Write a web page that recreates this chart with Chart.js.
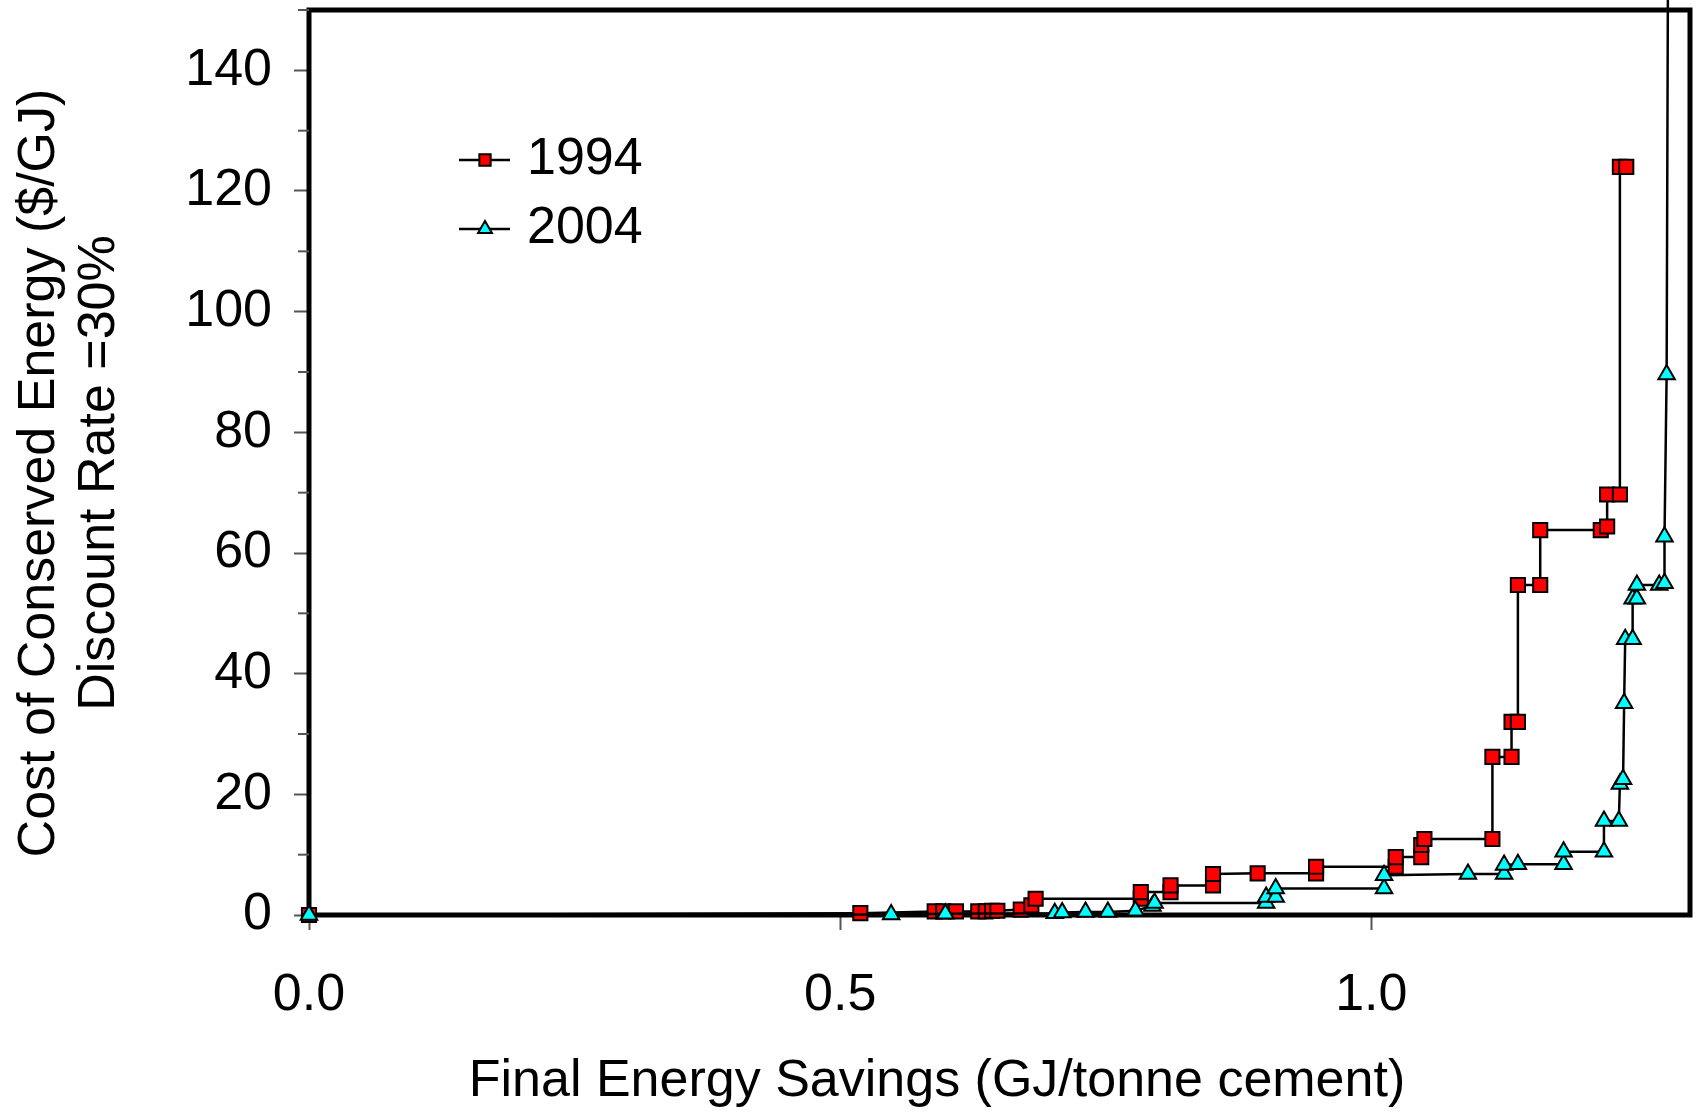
<!DOCTYPE html>
<html>
<head>
<meta charset="utf-8">
<script src="https://cdn.jsdelivr.net/npm/chart.js@4.4.1/dist/chart.umd.min.js"></script>
<style>
html, body { margin: 0; padding: 0; background: #fff; }
</style>
</head>
<body>
<canvas id="chart" width="1696" height="1113"></canvas>
<script>
// cumulative savings (GJ/t) and cost of conserved energy ($/GJ)
let savings1994 = [0, 0.519, 0.589, 0.597, 0.609, 0.630, 0.637, 0.643, 0.648, 0.670, 0.680, 0.684, 0.783, 0.783, 0.811, 0.811, 0.851, 0.851, 0.893, 0.948, 0.948, 1.023, 1.023, 1.047, 1.047, 1.050, 1.114, 1.114, 1.132, 1.132, 1.138, 1.138, 1.159, 1.159, 1.216, 1.222, 1.222, 1.234, 1.234, 1.240]
let cost1994 = [0, 0.3, 0.6, 0.6, 0.6, 0.6, 0.6, 0.7, 0.7, 0.9, 1.6, 2.7, 2.7, 3.8, 3.8, 4.9, 4.9, 6.8, 6.9, 6.9, 8.0, 8.0, 9.6, 9.6, 11.6, 12.6, 12.6, 26.2, 26.2, 32.0, 32.0, 54.7, 54.7, 63.8, 63.8, 64.4, 69.7, 69.7, 124, 124]

let savings2004 = [0, 0.548, 0.599, 0.702, 0.709, 0.731, 0.752, 0.778, 0.794, 0.796, 0.901, 0.901, 0.910, 0.910, 1.012, 1.012, 1.091, 1.125, 1.125, 1.138, 1.181, 1.181, 1.219, 1.219, 1.233, 1.234, 1.237, 1.238, 1.239, 1.246, 1.246, 1.250, 1.250, 1.271, 1.276, 1.276, 1.278, 1.281]
let cost2004 = [0, 0.1, 0.2, 0.3, 0.4, 0.5, 0.5, 0.7, 1.5, 2.0, 2.0, 3.0, 3.0, 4.4, 4.4, 6.6, 6.8, 6.8, 8.3, 8.4, 8.4, 10.5, 10.5, 15.6, 15.6, 21.7, 22.5, 35.1, 45.7, 45.7, 52.4, 52.4, 54.7, 54.7, 55.0, 62.7, 89.6, 250]

let xTickValues = [0, 0.5, 1.0]
let yTickValues = [0, 10, 20, 30, 40, 50, 60, 70, 80, 90, 100, 110, 120, 130, 140, 150]

let seriesNames = ['1994', '2004']
let xTitle = 'Final Energy Savings (GJ/tonne cement)'
let yTitle = ['Cost of Conserved Energy ($/GJ)', 'Discount Rate =30%']

const font = "'Liberation Sans', Arial, sans-serif"
const tickGrey = '#555'

function toPoints(xs, ys) {
    let pts = []
    for (let i = 0; i < xs.length; i++)
        pts.push({x: xs[i], y: ys[i]})
    return pts
}

const framePlugin = {
    id: 'frame',
    beforeDatasetsDraw(chart) {
        const {ctx, chartArea: a} = chart
        ctx.save()
        ctx.strokeStyle = '#000'
        ctx.lineWidth = 5
        ctx.strokeRect(a.left, a.top, a.right - a.left, a.bottom - a.top)
        // short minor ticks on the y axis
        const y = chart.scales.y
        ctx.strokeStyle = tickGrey
        ctx.lineWidth = 2
        for (const v of yTickValues) {
            if (v % 20 === 0) continue
            const py = y.getPixelForValue(v)
            ctx.beginPath()
            ctx.moveTo(a.left - 11, py)
            ctx.lineTo(a.left, py)
            ctx.stroke()
        }
        // axis titles, placed as in the original (a bit off the plot centre)
        ctx.fillStyle = '#000'
        ctx.font = '52px ' + font
        ctx.textAlign = 'center'
        ctx.textBaseline = 'middle'
        ctx.fillText(xTitle, a.left + 628, chart.height - 31)
        ctx.save()
        ctx.translate(40, 473)
        ctx.rotate(-Math.PI / 2)
        yTitle.forEach((t, i) => ctx.fillText(t, 0, i * 60))
        ctx.restore()
        ctx.restore()
    }
}

const legendPlugin = {
    id: 'innerLegend',
    afterDatasetsDraw(chart) {
        const {ctx, chartArea: a} = chart
        ctx.save()
        chart.data.datasets.forEach((ds, i) => {
            const yy = a.top + 150 + i * 69
            ctx.strokeStyle = ds.borderColor
            ctx.lineWidth = ds.borderWidth
            ctx.beginPath()
            ctx.moveTo(a.left + 150, yy)
            ctx.lineTo(a.left + 201, yy)
            ctx.stroke()
            ctx.fillStyle = ds.pointBackgroundColor
            ctx.strokeStyle = ds.pointBorderColor
            ctx.lineWidth = ds.pointBorderWidth
            Chart.helpers.drawPoint(ctx, {pointStyle: ds.pointStyle, radius: 8, borderWidth: ds.pointBorderWidth, rotation: 0}, a.left + 176, yy)
            ctx.fillStyle = '#000'
            ctx.font = '52px ' + font
            ctx.textAlign = 'left'
            ctx.textBaseline = 'middle'
            ctx.fillText(ds.label, a.left + 218, yy)
        })
        ctx.restore()
    }
}

window.onload = () => {
    const ctx = document.getElementById('chart').getContext('2d')
    new Chart(ctx, {
        type: 'scatter',
        data: {
            datasets: [{
                label: seriesNames[0],
                data: toPoints(savings1994, cost1994),
                showLine: true,
                borderColor: '#000',
                borderWidth: 2.5,
                pointStyle: 'rect',
                pointRadius: 10,
                pointBackgroundColor: '#ff0000',
                pointBorderColor: '#000',
                pointBorderWidth: 2,
                clip: false,
                order: 1
            }, {
                label: seriesNames[1],
                data: toPoints(savings2004, cost2004),
                showLine: true,
                borderColor: '#000',
                borderWidth: 2.5,
                pointStyle: 'triangle',
                pointRadius: 9.5,
                pointBackgroundColor: '#00ffff',
                pointBorderColor: '#000',
                pointBorderWidth: 2,
                clip: false,
                order: 0
            }]
        },
        options: {
            responsive: false,
            animation: false,
            events: [],
            layout: {autoPadding: false, padding: {left: 0, top: 10, right: 6, bottom: 1}},
            plugins: {
                legend: {display: false},
                tooltip: {enabled: false}
            },
            scales: {
                x: {
                    type: 'linear',
                    min: 0,
                    max: 1.3,
                    afterBuildTicks: s => { s.ticks = xTickValues.map(v => ({value: v})) },
                    afterFit: s => { s.height = 197; s.paddingLeft = 0; s.paddingRight = 0 },
                    border: {display: false},
                    grid: {drawOnChartArea: false, drawTicks: true, tickLength: 15, tickColor: tickGrey, tickWidth: 2},
                    ticks: {
                        color: '#000',
                        font: {family: font, size: 52},
                        padding: 34,
                        maxRotation: 0,
                        callback: v => v.toFixed(1)
                    },
                    title: {display: false}
                },
                y: {
                    type: 'linear',
                    min: 0,
                    max: 150,
                    afterBuildTicks: s => { s.ticks = yTickValues.map(v => ({value: v})) },
                    afterFit: s => { s.width = 309; s.paddingTop = 0; s.paddingBottom = 0 },
                    border: {display: false},
                    grid: {
                        drawOnChartArea: false,
                        drawTicks: true,
                        tickLength: 15,
                        tickWidth: 2,
                        tickColor: c => c.tick && c.tick.value % 20 === 0 ? tickGrey : 'rgba(0,0,0,0)'
                    },
                    ticks: {
                        color: '#000',
                        font: {family: font, size: 52},
                        padding: 22,
                        callback: v => v % 20 === 0 ? v : ''
                    },
                    title: {display: false}
                }
            }
        },
        plugins: [framePlugin, legendPlugin]
    })
}
</script>
</body>
</html>
